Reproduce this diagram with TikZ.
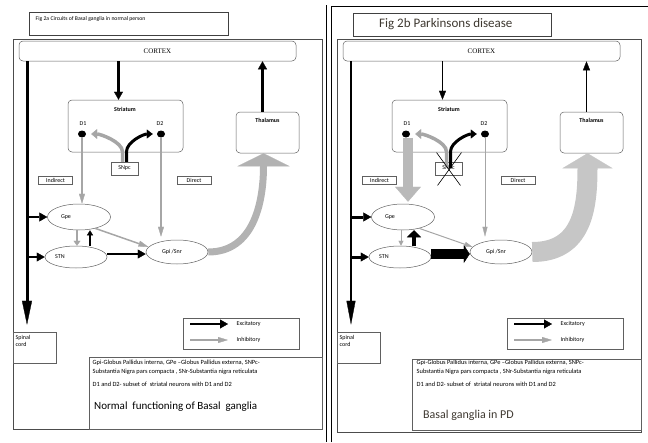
\documentclass[tikz,border=0pt]{standalone}
\usepackage{fontspec}
\setmainfont{Carlito}
\newfontfamily\ctxfont{Liberation Serif}
\usetikzlibrary{arrows.meta,shapes.geometric,calc}
\definecolor{pdtext}{RGB}{62,56,48}
\newcommand{\lblsize}{\fontsize{6}{7}\selectfont}

% boxes and ovals that both panels share, #1 = name prefix
\newcommand{\bgnodes}[1]{%
  \node[rbox, minimum width=277pt, minimum height=20pt] (#1ctx) at (157.5,51)
       {\ctxfont\fontsize{7}{8}\selectfont CORTEX};
  \node[rbox, minimum width=115pt, minimum height=52pt] (#1str) at (125.5,126) {};
  \node[lbl, font=\lblsize\bfseries] (#1strl) at (125,109) {Striatum};
  \node[lbl] (#1d1l) at (83,124) {D1};
  \node[dot] (#1d1) at (82,134) {};
  \node[lbl] (#1d2l) at (160,124) {D2};
  \node[dot] (#1d2) at (161,134) {};
  \node[sbox, minimum width=27pt, minimum height=13pt] (#1snpc) at (124.5,168.5) {SNpc};
  \node[sbox, minimum width=34pt, minimum height=8pt] (#1ind) at (55.5,180.5) {Indirect};
  \node[sbox, minimum width=34pt, minimum height=8pt] (#1dir) at (194,180.5) {Direct};
  \node[oval, minimum width=63pt, minimum height=26pt,
        label={[lbl, xshift=-13pt]center:Gpe}] (#1gpe) at (79,217) {};
  \node[oval, minimum width=62pt, minimum height=22pt,
        label={[lbl, xshift=-16pt]center:STN}] (#1stn) at (76,257) {};
  \node[oval, minimum width=62pt, minimum height=24pt,
        label={[lbl, xshift=-5pt]center:Gpi /Snr}] (#1gpi) at (177,252) {};
  \node[rbox, minimum width=63pt, minimum height=41pt] (#1thal) at (267.5,132.5) {};
  \node[lbl, font=\lblsize\bfseries] (#1thall) at (267.5,120) {Thalamus};
  \node[sbox, minimum width=43pt, minimum height=31pt] (#1spn) at (34.5,347.5) {};
  \node[lbl, anchor=north west, align=left] (#1spnl) at (15,335) {Spinal\\cord};
  \node[sbox, minimum width=116pt, minimum height=31pt] (#1leg) at (241,333.5) {};
  \node[lbl, anchor=west] (#1excl) at (236,324) {Excitatory};
  \node[lbl, anchor=west] (#1inhl) at (236,340) {Inhibitory};
  \coordinate (#1exs) at (190,324);
  \coordinate (#1ins) at (190,340);
  \coordinate (#1spx) at (27,0);
  \node[lbl, anchor=north west, align=left, font=\fontsize{6.4}{9}\selectfont] (#1descl) at (92,359)
       {Gpi-Globus Pallidus interna, GPe --Globus Pallidus externa, SNPc-\\
        Substantia Nigra pars compacta , SNr-Substantia nigra reticulata\\[4pt]
        D1 and D2- subset of\ \ striatal neurons with D1 and D2};
}

\begin{document}
\begin{tikzpicture}[x=1pt, y=-1pt,
  rbox/.style={draw=gray!75!black, rounded corners=4pt, line width=0.5pt, inner sep=0pt},
  sbox/.style={draw=gray!75!black, line width=0.5pt, inner sep=0pt, font=\lblsize},
  tbox/.style={draw=black!75, line width=1pt, inner sep=0pt},
  oval/.style={draw=gray!75!black, ellipse, line width=0.5pt, inner sep=0pt},
  dot/.style={ellipse, fill=black, minimum width=8pt, minimum height=7pt, inner sep=0pt},
  lbl/.style={font=\lblsize, inner sep=0.5pt},
  frame/.style={draw=black!70, line width=0.6pt},
  exc/.style={line width=2.2pt, -{Triangle[length=8pt,width=9pt,line width=0.3pt]}},
  exct/.style={line width=1pt, -{Triangle[length=9pt,width=7pt,line width=0.3pt]}},
  inh/.style={draw=gray!70, line width=2pt, -{Triangle[length=10pt,width=6pt,line width=0.3pt]}}]
  \useasboundingbox (0,0) rectangle (648,442);

  % the two figures side by side
  \draw[line width=0.7pt] (326,5) -- (326,442);
  \draw[line width=0.7pt] (331,442) -- (331,6) -- (648,6);

  % ---- Fig 2a, normal person ----
  \draw[frame] (13,39) rectangle (322,429);
  \node[tbox, minimum width=199pt, minimum height=23pt] (a-title) at (128.5,23.5) {};
  \node[lbl, font=\fontsize{5.7}{6.5}\selectfont, anchor=west] (a-titlel) at (35,19)
       {Fig 2a Circuits of Basal ganglia in normal person};
  \bgnodes{a-}
  \node[sbox, minimum width=233pt, minimum height=72pt] (a-desc) at (205.5,393) {};
  \node[anchor=west, inner sep=0pt, font=\fontsize{11}{12}\selectfont] (a-norm) at (94,407)
       {Normal\ \ functioning of Basal\ \ ganglia};

  \draw[exc] ([xshift=-7pt]a-str.north |- a-ctx.south) -- ([xshift=-7pt]a-str.north);
  \draw[exc] ([xshift=-5pt]a-thal.north) -- ([xshift=-5pt]a-thal.north |- a-ctx.south);
  \draw[exc, line width=3pt, -{Triangle[length=24pt,width=10pt,line width=0.3pt]}, shorten >=7pt]
       (a-ctx.south -| a-spx) -- (a-spn.north -| a-spx);
  \draw[exc] (a-gpe.west -| a-spx) -- (a-gpe.west);
  \draw[exc] (a-stn.west -| a-spx) -- (a-stn.west);
  \draw[gray!70, line width=3.5pt, -{Triangle[length=6pt,width=10pt,line width=0.3pt]}]
       ([xshift=-2pt]a-snpc.north) -- ++(0,-10) .. controls +(0,-10) and +(9,0) .. ([xshift=5pt]a-d1.east);
  \draw[line width=3pt, -{Triangle[length=6pt,width=9pt,line width=0.3pt]}]
       ([xshift=2pt]a-snpc.north) -- ++(0,-10) .. controls +(0,-10) and +(-9,0) .. ([xshift=-4pt]a-d2.west);
  \draw[inh] (a-d1.south) -- (a-d1.south |- a-gpe.north);
  \draw[inh] (a-d2.south) -- ([yshift=3pt]a-d2.south |- a-gpi.north);
  \draw[inh, -{Triangle[length=5pt,width=7pt,line width=0.3pt]}] ([xshift=-2pt]a-gpe.south) -- ([xshift=1pt]a-stn.north);
  \draw[exc, line width=1.8pt, -{Triangle[length=5pt,width=6pt,line width=0.3pt]}]
       ([xshift=14pt]a-stn.north) -- ([xshift=11pt]a-gpe.south);
  \draw[inh, line width=1.5pt] (a-gpe.-35) -- (a-gpi.170);
  \draw[exc] ([yshift=3pt]a-stn.east) -- ([yshift=3pt]a-stn.east -| a-gpi.west);
  \draw[gray!60, line width=7pt, -{Triangle[length=13pt,width=52pt,line width=0.3pt]}]
       (a-gpi.east) .. controls +(45,0) and +(0,50) .. ([xshift=-4pt]a-thal.south);
  \draw[exc] (a-exs) -- ([xshift=-8pt]a-excl.west);
  \draw[inh] (a-ins) -- ([xshift=-8pt]a-inhl.west);

  % ---- Fig 2b, Parkinsons disease ----
  \begin{scope}[shift={(324,0)}]
    \draw[frame] (13,39) rectangle (317,432);
    \node[tbox, minimum width=198pt, minimum height=23pt] (b-title) at (128,24.5) {};
    \node[anchor=west, inner sep=0pt, font=\fontsize{13}{14}\selectfont, text=pdtext] (b-titlel) at (55,24.5)
         {Fig 2b Parkinsons disease};
    \bgnodes{b-}
    \node[sbox, minimum width=229pt, minimum height=71pt] (b-desc) at (202.5,394.5) {};
    \node[anchor=west, inner sep=0pt, font=\fontsize{12}{13}\selectfont, text=pdtext] (b-pd) at (99,415)
         {Basal ganglia in PD};

    \draw[exct] ([xshift=-7pt]b-str.north |- b-ctx.south) -- ([xshift=-7pt]b-str.north);
    \draw[exct] ([xshift=-5pt]b-thal.north) -- ([xshift=-5pt]b-thal.north |- b-ctx.south);
    \draw[exct, line width=1.2pt, -{Triangle[length=24pt,width=9pt,line width=0.3pt]}, shorten >=7pt]
         (b-ctx.south -| b-spx) -- (b-spn.north -| b-spx);
    \draw[exc, line width=3pt] (b-gpe.west -| b-spx) -- (b-gpe.west);
    \draw[exc, line width=3pt] (b-stn.west -| b-spx) -- (b-stn.west);
    \draw[gray!70, line width=3.5pt, -{Triangle[length=6pt,width=10pt,line width=0.3pt]}]
         ([xshift=-2pt,yshift=-6pt]b-snpc.north) -- ++(0,-16) .. controls +(0,-10) and +(9,0) .. ([xshift=5pt]b-d1.east);
    \draw[line width=3pt, -{Triangle[length=6pt,width=9pt,line width=0.3pt]}]
         ([xshift=2pt,yshift=-6pt]b-snpc.north) -- ++(0,-16) .. controls +(0,-10) and +(-9,0) .. ([xshift=-4pt]b-d2.west);
    \draw[line width=0.6pt] ([shift={(-12,-16)}]b-snpc.center) -- ([shift={(12,17)}]b-snpc.center);
    \draw[line width=0.6pt] ([shift={(-11,17)}]b-snpc.center) -- ([shift={(13,-16)}]b-snpc.center);
    \draw[gray!55, line width=10pt, -{Triangle[length=15pt,width=26pt,line width=0.3pt]}]
         ([xshift=2pt]b-d1.south) -- ([xshift=2pt,yshift=2pt]b-d1.south |- b-gpe.north);
    \draw[gray!70, line width=0.6pt, -{Triangle[length=10pt,width=5pt,line width=0.3pt]}]
         (b-d2.south) -- ([yshift=3pt]b-d2.south |- b-gpi.north);
    \draw[gray!70, line width=0.8pt, -{Triangle[length=5pt,width=5pt,line width=0.3pt]}]
         ([xshift=-2pt]b-gpe.south) -- ([xshift=1pt]b-stn.north);
    \draw[line width=4pt, -{Triangle[length=7pt,width=14pt,line width=0.3pt]}]
         ([xshift=14pt]b-stn.north) -- ([xshift=11pt]b-gpe.south);
    \draw[gray!70, line width=1pt, -{Triangle[length=8pt,width=5pt,line width=0.3pt]}] (b-gpe.-35) -- (b-gpi.170);
    \draw[line width=10pt, -{Triangle[length=6pt,width=18pt,line width=0.3pt]}]
         ([yshift=3pt]b-stn.east) -- ([yshift=3pt]b-stn.east -| b-gpi.west);
    \draw[gray!45, line width=20pt, -{Triangle[length=15pt,width=50pt,line width=0.3pt]}]
         (b-gpi.east) .. controls +(50,0) and +(0,55) .. ([xshift=-4pt]b-thal.south);
    \draw[exc] (b-exs) -- ([xshift=-8pt]b-excl.west);
    \draw[inh] (b-ins) -- ([xshift=-8pt]b-inhl.west);
  \end{scope}
\end{tikzpicture}
\end{document}
